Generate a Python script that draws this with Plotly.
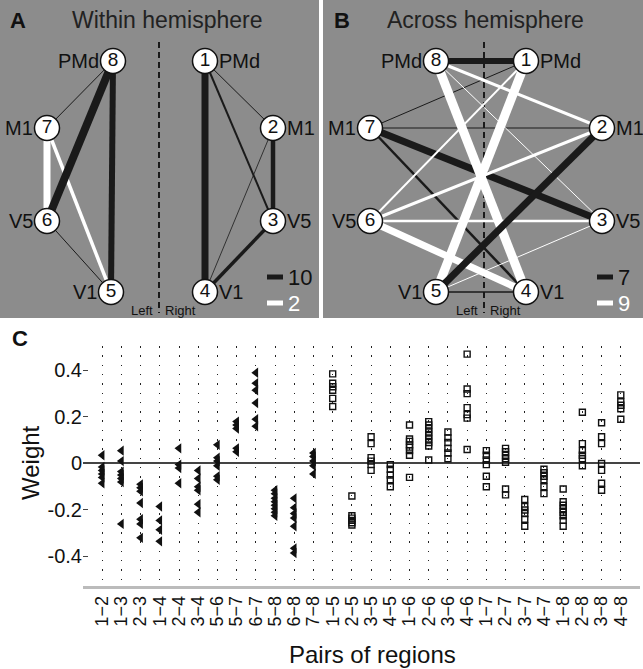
import plotly.graph_objects as go

W, H = 643, 669
FONT = "Liberation Sans, Arial, sans-serif"
PANEL_GRAY = "#8c8c8c"

# ---------------- network data ----------------
# node positions (local panel coordinates, pixels from panel top-left)
nodes_A = {1: (205, 61), 2: (273, 128), 3: (273, 221), 4: (205, 292),
           5: (111, 292), 6: (47, 221), 7: (47, 128), 8: (113, 61)}
nodes_B = {1: (203, 61), 2: (279, 128), 3: (279, 221), 4: (203, 292),
           5: (113, 292), 6: (47, 221), 7: (47, 128), 8: (113, 61)}
region_names = {1: "PMd", 2: "M1", 3: "V5", 4: "V1", 5: "V1", 6: "V5", 7: "M1", 8: "PMd"}

# edges: (node a, node b, sign (+1 white / -1 black), strength)
edges_A = [(6, 7, +1, 7), (5, 7, +1, 3.5),
           (7, 8, -1, 1), (5, 6, -1, 1), (1, 2, -1, 1), (2, 4, -1, 0.8),
           (1, 3, -1, 2), (3, 4, -1, 3.5), (2, 3, -1, 4.5),
           (5, 8, -1, 6), (6, 8, -1, 8), (1, 4, -1, 7)]
edges_B = [(1, 7, -1, 1), (2, 7, -1, 1), (4, 5, -1, 1.5), (4, 7, -1, 2.5),
           (3, 7, -1, 7), (1, 8, -1, 6),
           (3, 8, +1, 1), (3, 5, +1, 1), (1, 6, +1, 2), (3, 6, +1, 2.5),
           (2, 6, +1, 3), (2, 8, +1, 3), (4, 6, +1, 7),
           (1, 5, +1, 9), (4, 8, +1, 9),
           (2, 5, -1, 7)]

# ---------------- panel C data ----------------
pairs = ["1−2", "1−3", "2−3", "1−4", "2−4", "3−4", "5−6", "5−7", "6−7", "5−8", "6−8", "7−8",
         "1−5", "2−5", "3−5", "4−5", "1−6", "2−6", "3−6", "4−6", "1−7", "2−7", "3−7", "4−7",
         "1−8", "2−8", "3−8", "4−8"]
within_values = [
    [0.035, -0.015, -0.03, -0.045, -0.06, -0.085],           # 1-2
    [0.055, 0.01, -0.035, -0.05, -0.065, -0.08, -0.26],       # 1-3
    [-0.09, -0.105, -0.12, -0.17, -0.24, -0.26, -0.32],       # 2-3
    [-0.185, -0.245, -0.285, -0.335],                         # 1-4
    [0.065, -0.005, -0.02, -0.085],                           # 2-4
    [-0.03, -0.065, -0.1, -0.115, -0.175, -0.21],             # 3-4
    [0.08, 0.025, 0.01, -0.01, -0.055, -0.07],                # 5-6
    [0.18, 0.165, 0.15, 0.065, 0.05],                         # 5-7
    [0.39, 0.345, 0.315, 0.26, 0.19, 0.16],                   # 6-7
    [-0.115, -0.13, -0.15, -0.165, -0.18, -0.195, -0.21, -0.225],  # 5-8
    [-0.15, -0.19, -0.215, -0.235, -0.27, -0.365, -0.385],    # 6-8
    [0.045, 0.03, 0.01, -0.01, -0.045],                       # 7-8
]
across_values = [
    [0.385, 0.345, 0.33, 0.315, 0.28, 0.245],                 # 1-5
    [-0.14, -0.225, -0.235, -0.245, -0.255, -0.265],          # 2-5
    [0.115, 0.085, 0.025, 0.01, -0.005, -0.03],               # 3-5
    [-0.005, -0.025, -0.05, -0.07, -0.1],                     # 4-5
    [0.165, 0.105, 0.095, 0.08, 0.07, 0.055, 0.035, -0.06],   # 1-6
    [0.18, 0.165, 0.15, 0.135, 0.12, 0.105, 0.09, 0.075, 0.015],  # 2-6
    [0.135, 0.11, 0.09, 0.065, 0.045, 0.02],                  # 3-6
    [0.47, 0.32, 0.3, 0.24, 0.21, 0.195, 0.06],               # 4-6
    [0.055, 0.035, 0.015, -0.005, -0.055, -0.1],              # 1-7
    [0.065, 0.05, 0.035, 0.02, 0.005, -0.11, -0.135],         # 2-7
    [-0.155, -0.185, -0.2, -0.215, -0.24, -0.27],             # 3-7
    [-0.025, -0.04, -0.055, -0.07, -0.1, -0.13],              # 4-7
    [-0.11, -0.165, -0.18, -0.195, -0.21, -0.225, -0.245, -0.27],  # 1-8
    [0.22, 0.085, 0.055, 0.035, 0.02, -0.01],                 # 2-8
    [0.175, 0.115, 0.085, 0.0, -0.03, -0.085, -0.115],        # 3-8
    [0.295, 0.265, 0.25, 0.235, 0.19],                        # 4-8
]
y_ticks = [-0.4, -0.2, 0, 0.2, 0.4]
y_ticktext = ["-0.4", "-0.2", "0", "0.2", "0.4"]

# ---------------- figure ----------------
fig = go.Figure()


def px_x(p):
    return p / W


def px_y(p):
    return 1 - p / H


def add_network(nodes, edges, xa, ya):
    for a, b, sign, s in edges:
        (x1, y1), (x2, y2) = nodes[a], nodes[b]
        fig.add_trace(go.Scatter(
            x=[x1, x2], y=[y1, y2], mode="lines",
            line=dict(color="white" if sign > 0 else "#1a1a1a", width=s),
            xaxis=xa, yaxis=ya, hoverinfo="skip", showlegend=False))
    ids = sorted(nodes)
    fig.add_trace(go.Scatter(
        x=[nodes[i][0] for i in ids], y=[nodes[i][1] for i in ids],
        mode="markers+text", text=[str(i) for i in ids],
        textposition="middle center",
        textfont=dict(family=FONT, size=19, color="#111"),
        marker=dict(size=25, color="white", line=dict(color="#111", width=1.5)),
        xaxis=xa, yaxis=ya, hoverinfo="skip", showlegend=False))


add_network(nodes_A, edges_A, "x", "y")
add_network(nodes_B, edges_B, "x2", "y2")

# panel C markers
tx, ty = [], []
for i, vals in enumerate(within_values):
    tx += [i] * len(vals)
    ty += vals
sx, sy = [], []
for j, vals in enumerate(across_values):
    sx += [len(within_values) + j] * len(vals)
    sy += vals

fig.add_trace(go.Scatter(
    x=tx, y=ty, mode="markers",
    marker=dict(symbol="triangle-left", size=9, color="#111"),
    xaxis="x3", yaxis="y3", hoverinfo="skip", showlegend=False))
fig.add_trace(go.Scatter(
    x=sx, y=sy, mode="markers",
    marker=dict(symbol="square-open", size=6, color="#111", line=dict(width=1.4)),
    xaxis="x3", yaxis="y3", hoverinfo="skip", showlegend=False))

shapes = []
annotations = []

# panel backgrounds
shapes.append(dict(type="rect", xref="paper", yref="paper", x0=0, x1=px_x(319),
                   y0=px_y(318), y1=1, fillcolor=PANEL_GRAY, line=dict(width=0), layer="below"))
shapes.append(dict(type="rect", xref="paper", yref="paper", x0=px_x(323), x1=1,
                   y0=px_y(318), y1=1, fillcolor=PANEL_GRAY, line=dict(width=0), layer="below"))


def txt(x, y, text, size, color="#111", xref="paper", yref="paper", xanchor="center",
        yanchor="middle", angle=0):
    return dict(x=x, y=y, xref=xref, yref=yref, text=text, showarrow=False,
                xanchor=xanchor, yanchor=yanchor, textangle=angle,
                font=dict(family=FONT, size=size, color=color))


for xa, ya, mid in (("x", "y", 159), ("x2", "y2", 161)):
    shapes.append(dict(type="line", xref=xa, yref=ya, x0=mid, x1=mid, y0=42, y1=313,
                       line=dict(color="#1a1a1a", width=2, dash="6px,4px"), layer="below"))
    annotations.append(txt(mid - 4, 310, "Left", 13, xref=xa, yref=ya, xanchor="right"))
    annotations.append(txt(mid + 4, 310, "Right", 13, xref=xa, yref=ya, xanchor="left"))


def add_labels(nodes, xa, ya):
    for i, (x, y) in nodes.items():
        left = i >= 5
        annotations.append(txt(x + (-12 if left else 12), y, region_names[i], 20,
                               xref=xa, yref=ya, xanchor="right" if left else "left"))


add_labels(nodes_A, "x", "y")
add_labels(nodes_B, "x2", "y2")

# titles & letters
annotations += [
    txt(px_x(18), px_y(20), "<b>A</b>", 22),
    txt(px_x(167), px_y(20), "Within hemisphere", 23, color="#222"),
    txt(px_x(342), px_y(20), "<b>B</b>", 22),
    txt(px_x(485), px_y(20), "Across hemisphere", 23, color="#222"),
    txt(px_x(20), px_y(338), "<b>C</b>", 22),
    txt(px_x(30), px_y(463), "Weight", 24, angle=-90),
    txt(px_x(372), px_y(654), "Pairs of regions", 24),
]

# legends for line widths
legend_items = [("x", "y", 267, 283, "10", "2"), ("x2", "y2", 274, 290, "7", "9")]
for xa, ya, x0, x1, lab_b, lab_w in legend_items:
    shapes.append(dict(type="line", xref=xa, yref=ya, x0=x0, x1=x1, y0=277, y1=277,
                       line=dict(color="#1a1a1a", width=5)))
    shapes.append(dict(type="line", xref=xa, yref=ya, x0=x0, x1=x1, y0=303, y1=303,
                       line=dict(color="white", width=5)))
    annotations.append(txt(x1 + 3, 277, lab_b, 22, xref=xa, yref=ya, xanchor="left"))
    annotations.append(txt(x1 + 3, 303, lab_w, 22, color="white", xref=xa, yref=ya,
                           xanchor="left"))

hidden = dict(visible=False, fixedrange=True)
fig.update_layout(
    width=W, height=H,
    margin=dict(l=0, r=0, t=0, b=0, pad=0),
    paper_bgcolor="white", plot_bgcolor="rgba(0,0,0,0)",
    font=dict(family=FONT, color="#111"),
    xaxis=dict(domain=[0, px_x(319)], range=[0, 319], **hidden),
    yaxis=dict(domain=[px_y(318), 1], range=[318, 0], **hidden),
    xaxis2=dict(domain=[px_x(323), 1], range=[0, 320], **hidden),
    yaxis2=dict(domain=[px_y(318), 1], range=[318, 0], **hidden),
    xaxis3=dict(domain=[px_x(83), px_x(640)], range=[-1, 28], anchor="y3",
                tickmode="array", tickvals=list(range(len(pairs))), ticktext=pairs,
                tickangle=-90, tickfont=dict(family=FONT, size=18, color="#111"),
                showgrid=True, gridcolor="#222", gridwidth=1, griddash="1.5px,7.8px",
                zeroline=False, showline=True, linecolor="#bbbbbb", linewidth=2.5,
                ticks="", fixedrange=True),
    yaxis3=dict(domain=[px_y(586), px_y(346)], range=[-0.527, 0.505], anchor="x3",
                tickmode="array", tickvals=y_ticks, ticktext=y_ticktext,
                tickfont=dict(family=FONT, size=20, color="#111"),
                ticks="inside", ticklen=5, tickcolor="#444", tickwidth=1,
                showgrid=False, zeroline=True, zerolinecolor="#444", zerolinewidth=1.5,
                showline=False, fixedrange=True),
    shapes=shapes, annotations=annotations,
)

fig.write_html("out.html", config={"displayModeBar": False},
               post_script="document.body.style.margin='0';")
